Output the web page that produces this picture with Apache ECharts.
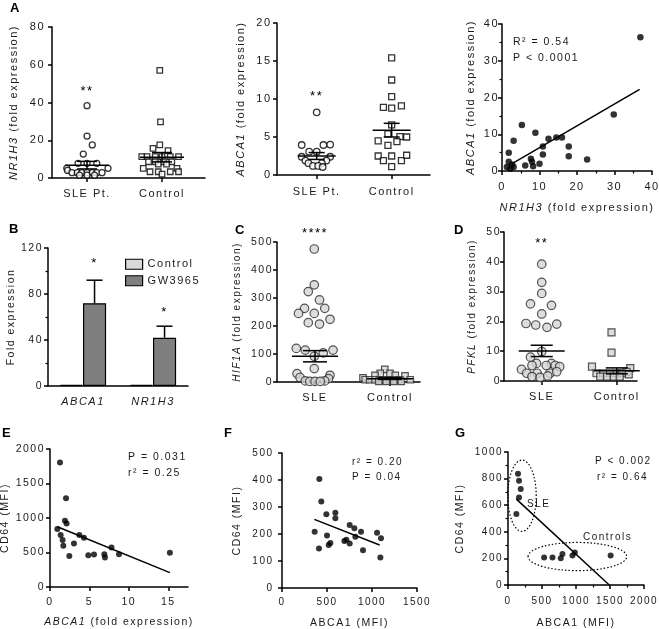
<!DOCTYPE html>
<html>
<head>
<meta charset="utf-8">
<script src="https://cdn.jsdelivr.net/npm/echarts@6/dist/echarts.min.js"></script>
<style>
  html, body { margin: 0; padding: 0; background: #fff; }
  #chart { width: 659px; height: 629px; }
</style>
</head>
<body>
<div id="chart"></div>
<script>
// GraphPad style wide tracking on all text
['fillText', 'strokeText', 'measureText'].forEach(function (fn) {
  const orig = CanvasRenderingContext2D.prototype[fn]
  CanvasRenderingContext2D.prototype[fn] = function () {
    this.letterSpacing = '1.5px'
    return orig.apply(this, arguments)
  }
})

// ---- A1: NR1H3 dot plot ----
const a1Groups = ['SLE Pt.', 'Control']
const a1SleVal = [38.3, 22.2, 17.5, 12.7, 7.8, 7.8, 7.8, 5.1, 5.1, 4, 2.8, 2.8, 2.8, 2.8, 2.8, 2.8, 2.8, 1.5, 1.5, 1.5]
const a1SlePos = [0, 0, 0.07, -0.05, -0.12, 0, 0.13, -0.27, 0.28, -0.26, -0.2, -0.13, -0.07, 0, 0.07, 0.13, 0.2, -0.1, 0, 0.1]
const a1CtlVal = [57, 29.7, 17.5, 15.7, 14.5, 11.3, 11.3, 11.3, 11.3, 11.3, 11.3, 8.6, 8.6, 8.6, 8.6, 7.4, 7.4, 5.1, 5.1, 3.3, 3.3, 3.3, 3.3, 2.1]
const a1CtlPos = [-0.03, -0.02, -0.03, -0.12, 0.08, -0.27, -0.2, -0.09, 0, 0.11, 0.22, -0.18, -0.09, 0.02, 0.13, -0.05, 0.06, -0.25, 0.2, -0.16, -0.05, 0.11, 0.22, 0]
const a1Mean = [6.8, 11]
const a1Sem = [2.0, 2.5]
const a1Stars = [[0, 46, '**']]

// ---- A2: ABCA1 dot plot ----
const a2Groups = ['SLE Pt.', 'Control']
const a2SleVal = [8.25, 3.95, 3.95, 4.0, 3.07, 3.07, 2.4, 2.4, 1.9, 1.9, 1.55, 1.55, 1.2, 1.2, 1.05]
const a2SlePos = [0, -0.2, 0.09, 0.18, -0.1, 0, -0.2, 0.18, -0.15, 0.13, -0.11, 0.07, -0.05, 0.02, 0.08]
const a2CtlVal = [15.4, 12.5, 10.3, 8.9, 8.8, 9.1, 6.6, 5.4, 5.05, 5.0, 4.5, 4.4, 3.9, 2.5, 1.9, 2.5, 1.9, 2.6, 1.1]
const a2CtlPos = [0, 0, 0, -0.11, 0, 0.13, 0, -0.05, 0.11, 0.2, -0.18, 0.07, -0.05, -0.18, -0.11, 0, 0.13, 0.2, 0]
const a2Mean = [2.5, 5.9]
const a2Sem = [0.45, 0.9]
const a2Stars = [[0, 10.3, '**']]

// ---- A3: NR1H3 vs ABCA1 ----
const a3X = [36.9, 29.8, 5.3, 8.9, 3.1, 12.4, 14.5, 16.0, 1.8, 17.8, 10.9, 10.9, 17.8, 22.7, 7.7, 8.0, 6.2, 8.3, 10.0, 1.8, 2.7, 3.1, 1.3, 2.2]
const a3Y = [36.4, 15.4, 12.5, 10.4, 8.2, 8.8, 9.1, 9.1, 5.0, 6.7, 6.7, 4.5, 4.0, 3.1, 3.3, 2.5, 1.5, 1.3, 2.0, 2.5, 1.8, 1.1, 1.1, 0.6]
const a3Fit = [[2.7, 2.0], [36.7, 22.2]]

// ---- B: GW3965 bars ----
const bCats = ['ABCA1', 'NR1H3']
const bControl = [1, 1]
const bGW = [72, 42]
const bGWErr = [20, 10]
const bStars = [107, 64]

// ---- C: HIF1A dot plot ----
const cGroups = ['SLE', 'Control']
const cSleVal = [475, 347, 323, 293, 263, 263, 245, 245, 224, 212, 207, 120, 114, 114, 104, 92, 48, 30, 24, 16, 12, 4, 4, 2, 2, 2]
const cSlePos = [-0.01, -0.01, -0.09, 0.06, -0.14, 0.13, -0.22, -0.01, 0.2, -0.09, 0.06, -0.25, -0.13, 0.24, 0.11, -0.01, -0.01, -0.24, 0.2, -0.2, 0.18, -0.13, 0.13, -0.07, 0, 0.07]
const cCtlVal = [45, 31, 31, 24, 24, 22, 15, 8, 8, 8, 8, 8, 8, 8, 8, 8, 2, 2, 2, 2]
const cCtlPos = [-0.07, -0.13, 0, -0.2, 0.07, 0.2, -0.36, -0.33, -0.27, -0.2, -0.13, -0.07, 0, 0.07, 0.13, 0.27, -0.15, -0.05, 0.05, 0.15]
const cMean = [92, 12]
const cSem = [20, 3]
const cStars = [[0, 532, '****']]

// ---- D: PFKL dot plot ----
const dGroups = ['SLE', 'Control']
const dSleVal = [39.2, 33.1, 29.4, 25.9, 25.4, 22.5, 19.3, 18.8, 18, 19.1, 9.9, 8, 5.9, 5.9, 5.2, 5.2, 5.2, 4.8, 3.9, 2.6, 2.6, 2.6, 3.1, 1.5, 1.2, 1.7]
const dSlePos = [0, 0, 0, -0.15, 0.13, 0, -0.21, -0.08, 0.07, 0.2, 0, -0.15, -0.07, 0.13, -0.13, 0.06, 0.18, 0.24, -0.27, -0.2, -0.06, 0.11, 0.2, -0.13, -0.02, 0.08]
const dCtlVal = [16.3, 9.5, 4.8, 4.3, 3.1, 2.6, 2.6, 2.6, 2.6, 2.6, 1.5, 1.5, 1.5, 1.5, 2.2]
const dCtlPos = [-0.07, -0.07, -0.33, 0.18, 0.13, -0.27, -0.18, -0.09, 0, 0.07, -0.22, -0.13, -0.04, 0.04, 0.16]
const dMean = [10.1, 3.4]
const dSem = [1.9, 1.0]
const dStars = [[0, 46, '**']]

// ---- E: ABCA1 fold vs CD64 ----
const eX = [1.27, 2.03, 1.9, 2.1, 0.93, 1.35, 1.6, 1.69, 3.04, 3.72, 4.3, 2.45, 4.86, 5.58, 6.89, 6.97, 7.8, 8.75, 15.2]
const eY = [1806, 1286, 961, 922, 840, 752, 680, 597, 631, 752, 713, 451, 461, 471, 476, 427, 573, 476, 495]
const eFit = [[0.93, 874], [15.2, 209]]

// ---- F: ABCA1 MFI vs CD64 ----
const fX = [415, 437, 363, 411, 493, 500, 519, 537, 593, 593, 693, 715, 752, 752, 804, 815, 878, 900, 1056, 1100, 1093]
const fY = [404, 320, 208, 146, 273, 194, 159, 167, 279, 258, 174, 179, 233, 165, 221, 190, 208, 140, 205, 184, 113]
const fFit = [[359, 254], [1085, 159]]

// ---- G: SLE + controls ----
const gX = [147, 162, 187, 162, 123, 531, 654, 776, 801, 948, 983, 1509]
const gY = [837, 784, 721, 658, 533, 206, 206, 201, 234, 221, 244, 221]
const gFit = [[123, 646], [1489, 0]]
const gEllipses = [[206, 671, 209, 268], [1020, 214, 725, 106]]

const FONT = 'Liberation Sans, Arial, sans-serif'
const TXT = '#1a1a1a'
const axisLine = { show: true, onZero: false, lineStyle: { color: '#000', width: 1.5 } }
const tick = { show: true, length: 4, lineStyle: { color: '#000', width: 1.5 } }
const minor = { show: true, length: 2.5, splitNumber: 2, lineStyle: { color: '#000', width: 1.2 } }
const plain = v => String(v)

const grids = [
  [52, 27, 153, 151],
  [277, 23, 153, 152],
  [502, 24, 150, 147],
  [48, 248, 140, 138],
  [277, 242, 143, 140],
  [504, 232, 133, 149],
  [50, 449, 138, 138],
  [282, 453, 135, 135],
  [508, 452, 136, 133]
].map(g => ({ left: g[0], top: g[1], width: g[2], height: g[3], containLabel: false, outerBoundsMode: 'none' }))

function groupX(grid, min, max, groups, fs, margin) {
  return {
    type: 'value', gridIndex: grid, min: min, max: max,
    axisLine: axisLine,
    axisTick: Object.assign({ customValues: [0, 1] }, tick),
    axisLabel: { customValues: [0, 1], formatter: v => groups[Math.round(v)], fontSize: fs, margin: margin, color: TXT, fontFamily: FONT },
    splitLine: { show: false }
  }
}
function valueAxis(grid, min, max, interval, fs, margin, extra) {
  return Object.assign({
    type: 'value', gridIndex: grid, min: min, max: max, interval: interval,
    axisLine: axisLine, axisTick: tick,
    axisLabel: { fontSize: fs, margin: margin, color: TXT, fontFamily: FONT, formatter: plain },
    splitLine: { show: false }
  }, extra || {})
}
function yName(name, gap, fs) {
  return {
    name: name, nameLocation: 'middle', nameGap: gap,
    nameTextStyle: { fontSize: fs, color: TXT, fontFamily: FONT, rich: { i: { fontStyle: 'italic', fontSize: fs, color: TXT, fontFamily: FONT } } }
  }
}

const openCircle = { color: '#fff', borderColor: '#000', borderWidth: 1.3 }
const greyCircle = { color: '#d4d4d4', borderColor: '#2a2a2a', borderWidth: 1.2 }

function dots(grid, group, pos, vals, symbol, size, style) {
  return {
    type: 'scatter', xAxisIndex: grid, yAxisIndex: grid, symbol: symbol, symbolSize: size,
    itemStyle: style, z: 2, silent: true,
    data: pos.map((p, i) => [group + p, vals[i]])
  }
}
function points(grid, xs, ys, size) {
  return {
    type: 'scatter', xAxisIndex: grid, yAxisIndex: grid, symbol: 'circle', symbolSize: size,
    itemStyle: { color: '#000' }, z: 3, silent: true,
    data: xs.map((x, i) => [x, ys[i]])
  }
}
function fitLine(grid, fit) {
  return {
    type: 'line', xAxisIndex: grid, yAxisIndex: grid, data: fit, symbol: 'none', silent: true,
    lineStyle: { color: '#000', width: 1.5 }, z: 2
  }
}
function meanSem(grid, means, sems, half, cap) {
  return {
    type: 'custom', xAxisIndex: grid, yAxisIndex: grid, z: 4, silent: true,
    data: means.map((m, i) => [i, m, sems[i]]),
    renderItem: function (params, api) {
      const c = api.coord([api.value(0), api.value(1)])
      const hi = api.coord([api.value(0), api.value(1) + api.value(2)])
      const lo = api.coord([api.value(0), api.value(1) - api.value(2)])
      const st = { stroke: '#000', lineWidth: 1.5 }
      return {
        type: 'group', children: [
          { type: 'line', shape: { x1: c[0] - half, y1: c[1], x2: c[0] + half, y2: c[1] }, style: st },
          { type: 'line', shape: { x1: c[0], y1: hi[1], x2: c[0], y2: lo[1] }, style: st },
          { type: 'line', shape: { x1: c[0] - cap, y1: hi[1], x2: c[0] + cap, y2: hi[1] }, style: st },
          { type: 'line', shape: { x1: c[0] - cap, y1: lo[1], x2: c[0] + cap, y2: lo[1] }, style: st }
        ]
      }
    }
  }
}
function stars(grid, items, fs) {
  return {
    type: 'custom', xAxisIndex: grid, yAxisIndex: grid, silent: true, z: 5,
    data: items.map(s => [s[0], s[1]]),
    renderItem: function (params, api) {
      const p = api.coord([api.value(0), api.value(1)])
      return {
        type: 'text',
        style: { text: items[params.dataIndex][2], x: p[0], y: p[1], align: 'center', verticalAlign: 'middle', fontSize: fs, fontFamily: FONT, fill: '#000' }
      }
    }
  }
}

const xAxis = [
  groupX(0, -0.467, 1.573, a1Groups, 11, 10),
  groupX(1, -0.529, 1.511, a2Groups, 11, 11),
  valueAxis(2, 0, 40, 10, 11, 10, Object.assign({ minorTick: minor }, {
    name: '{i|NR1H3} (fold expression)', nameLocation: 'middle', nameGap: 31,
    nameTextStyle: { fontSize: 11, color: TXT, fontFamily: FONT, rich: { i: { fontStyle: 'italic', fontSize: 11, color: TXT, fontFamily: FONT } } }
  })),
  {
    type: 'category', gridIndex: 3, data: bCats,
    axisLine: axisLine, axisTick: { show: false },
    axisLabel: { fontSize: 11, fontStyle: 'italic', margin: 10, color: TXT, fontFamily: FONT }
  },
  groupX(4, -0.507, 1.4, cGroups, 11, 10),
  groupX(5, -0.503, 1.27, dGroups, 11, 10),
  valueAxis(6, 0, 17.5, 5, 10.5, 9, {
    axisTick: Object.assign({ customValues: [0, 5, 10, 15] }, tick),
    axisLabel: { customValues: [0, 5, 10, 15], fontSize: 10.5, margin: 9, color: TXT, fontFamily: FONT, formatter: plain },
    name: '{i|ABCA1} (fold expression)', nameLocation: 'middle', nameGap: 29,
    nameTextStyle: { fontSize: 10.5, color: TXT, fontFamily: FONT, rich: { i: { fontStyle: 'italic', fontSize: 10.5, color: TXT, fontFamily: FONT } } }
  }),
  valueAxis(7, 0, 1500, 500, 10, 8, {
    name: 'ABCA1 (MFI)', nameLocation: 'middle', nameGap: 29,
    nameTextStyle: { fontSize: 10.5, color: TXT, fontFamily: FONT }
  }),
  valueAxis(8, 0, 2000, 500, 10, 10, {
    minorTick: minor,
    name: 'ABCA1 (MFI)', nameLocation: 'middle', nameGap: 32,
    nameTextStyle: { fontSize: 10.5, color: TXT, fontFamily: FONT }
  })
]

const yAxis = [
  valueAxis(0, 0, 80, 20, 11, 7, yName('{i|NR1H3} (fold expression)', 32, 11)),
  valueAxis(1, 0, 20, 5, 11, 5.5, yName('{i|ABCA1} (fold expression)', 30, 11)),
  valueAxis(2, 0, 40, 10, 11, 3, Object.assign({ minorTick: minor }, yName('{i|ABCA1} (fold expression)', 25, 11))),
  valueAxis(3, 0, 120, 40, 10.5, 5, Object.assign({ minorTick: minor }, yName('Fold expression', 25, 10.5))),
  valueAxis(4, 0, 500, 100, 10.5, 4, yName('{i|HIF1A} (fold expression)', 34, 10)),
  valueAxis(5, 0, 50, 10, 10.5, 3, yName('{i|PFKL} (fold expression)', 26, 10)),
  valueAxis(6, 0, 2000, 500, 10.5, 5, yName('CD64 (MFI)', 34, 10.5)),
  valueAxis(7, 0, 500, 100, 10, 8.5, yName('CD64 (MFI)', 39, 10.5)),
  valueAxis(8, 0, 1000, 200, 10, 5, Object.assign({ minorTick: minor }, yName('CD64 (MFI)', 42, 10.5)))
]

const series = [
  dots(0, 0, a1SlePos, a1SleVal, 'circle', 6, openCircle),
  dots(0, 1, a1CtlPos, a1CtlVal, 'rect', 5.5, openCircle),
  meanSem(0, a1Mean, a1Sem, 22, 10),
  stars(0, a1Stars, 13),

  dots(1, 0, a2SlePos, a2SleVal, 'circle', 6.5, openCircle),
  dots(1, 1, a2CtlPos, a2CtlVal, 'rect', 6, openCircle),
  meanSem(1, a2Mean, a2Sem, 19, 8),
  stars(1, a2Stars, 13),

  points(2, a3X, a3Y, 6.5),
  fitLine(2, a3Fit),

  {
    name: 'Control', type: 'bar', xAxisIndex: 3, yAxisIndex: 3, data: bControl,
    barGap: '0%', barCategoryGap: '34%', silent: true,
    itemStyle: { color: '#d9d9d9', borderColor: '#000', borderWidth: 1.2 }
  },
  {
    name: 'GW3965', type: 'bar', xAxisIndex: 3, yAxisIndex: 3, data: bGW,
    barGap: '0%', barCategoryGap: '34%', silent: true,
    itemStyle: { color: '#7f7f7f', borderColor: '#000', borderWidth: 1.2 }
  },
  {
    type: 'custom', xAxisIndex: 3, yAxisIndex: 3, z: 5, silent: true,
    data: bGW.map((v, i) => [i, v, bGWErr[i], bStars[i]]),
    renderItem: function (params, api) {
      const band = api.size([1, 0])[0]
      const barW = band * 0.66 / 2
      const base = api.coord([api.value(0), api.value(1)])
      const top = api.coord([api.value(0), api.value(1) + api.value(2)])
      const star = api.coord([api.value(0), api.value(3)])
      const x = base[0] + barW / 2
      const st = { stroke: '#000', lineWidth: 1.5 }
      return {
        type: 'group', children: [
          { type: 'line', shape: { x1: x, y1: base[1], x2: x, y2: top[1] }, style: st },
          { type: 'line', shape: { x1: x - 8, y1: top[1], x2: x + 8, y2: top[1] }, style: st },
          { type: 'text', style: { text: '*', x: x, y: star[1], align: 'center', verticalAlign: 'middle', fontSize: 13, fontFamily: FONT, fill: '#000' } }
        ]
      }
    }
  },

  dots(4, 0, cSlePos, cSleVal, 'circle', 8.5, greyCircle),
  dots(4, 1, cCtlPos, cCtlVal, 'rect', 6.5, greyCircle),
  meanSem(4, cMean, cSem, 23, 12),
  stars(4, cStars, 13),

  dots(5, 0, dSlePos, dSleVal, 'circle', 8.5, greyCircle),
  dots(5, 1, dCtlPos, dCtlVal, 'rect', 7, greyCircle),
  meanSem(5, dMean, dSem, 23, 11),
  stars(5, dStars, 13),

  points(6, eX, eY, 6),
  fitLine(6, eFit),

  points(7, fX, fY, 6),
  fitLine(7, fFit),

  points(8, gX, gY, 6),
  fitLine(8, gFit),
  {
    type: 'custom', xAxisIndex: 8, yAxisIndex: 8, z: 1, silent: true,
    data: gEllipses,
    renderItem: function (params, api) {
      const c = api.coord([api.value(0), api.value(1)])
      const s = api.size([api.value(2), api.value(3)])
      return {
        type: 'ellipse',
        shape: { cx: c[0], cy: c[1], rx: s[0], ry: s[1] },
        style: { fill: 'none', stroke: '#000', lineWidth: 1.2, lineDash: [1.5, 2] }
      }
    }
  }
]

function label(text, left, top, size, weight) {
  return {
    type: 'text', left: left, top: top,
    style: { text: text, fontSize: size, fontWeight: weight || 'normal', fontFamily: FONT, fill: weight ? '#000' : TXT }
  }
}

const graphic = [
  label('A', 10, 1, 13, 'bold'),
  label('B', 9, 222, 13, 'bold'),
  label('C', 235, 223, 13, 'bold'),
  label('D', 454, 223, 13, 'bold'),
  label('E', 2, 426, 13, 'bold'),
  label('F', 224, 426, 13, 'bold'),
  label('G', 455, 426, 13, 'bold'),
  label('R² = 0.54', 513, 36, 10.5),
  label('P < 0.0001', 513, 52, 10.5),
  label('P = 0.031', 128, 451, 10.5),
  label('r² = 0.25', 128, 467, 10.5),
  label('r² = 0.20', 352, 456, 10),
  label('P = 0.04', 352, 471, 10),
  label('P < 0.002', 595, 455, 10),
  label('r² = 0.64', 597, 471, 10),
  label('SLE', 527, 498, 10),
  label('Controls', 583, 531, 10)
]

const chart = echarts.init(document.getElementById('chart'))
chart.setOption({
  animation: false,
  backgroundColor: '#fff',
  textStyle: { fontFamily: FONT },
  legend: {
    data: ['Control', 'GW3965'], orient: 'vertical', left: 120, top: 253,
    itemWidth: 17, itemHeight: 10, itemGap: 4, icon: 'rect',
    itemStyle: { borderColor: '#000', borderWidth: 1.2 },
    textStyle: { fontSize: 11, color: TXT, fontFamily: FONT },
    selectedMode: false
  },
  grid: grids,
  xAxis: xAxis,
  yAxis: yAxis,
  series: series,
  graphic: graphic
})
</script>
</body>
</html>
